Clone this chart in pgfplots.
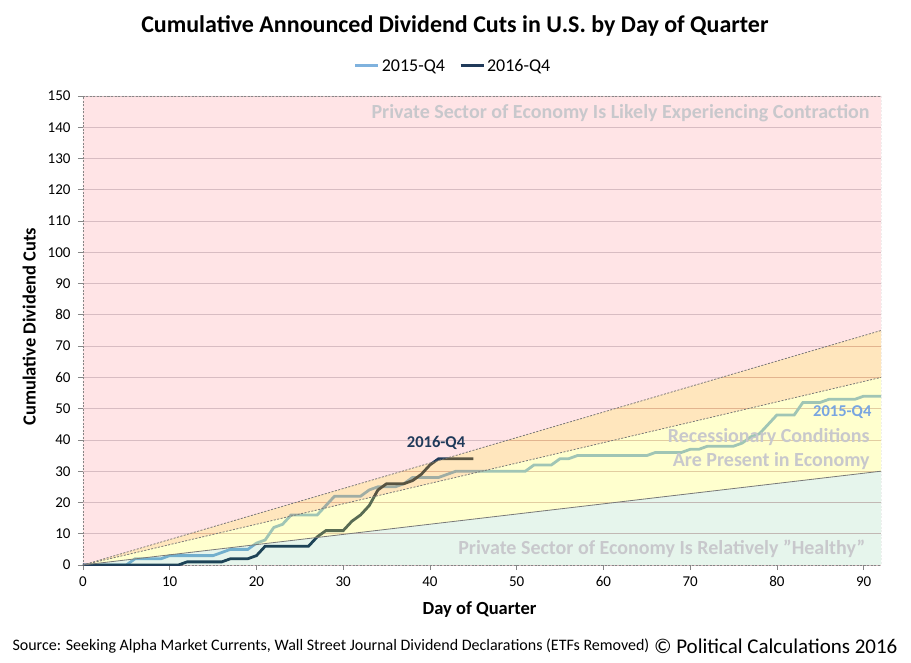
\documentclass[border=0pt]{standalone}
\usepackage{fontspec}
\setmainfont{Carlito}
\usepackage{pgfplots}
\usepackage{pgfplotstable}
\pgfplotsset{compat=1.18}
\definecolor{pinkbg}{RGB}{255,228,230}
\definecolor{gridc}{RGB}{216,188,194}
\definecolor{axgray}{RGB}{134,134,134}
\definecolor{bound}{RGB}{120,120,120}
\definecolor{cfif}{RGB}{127,178,222}
\definecolor{csix}{RGB}{32,58,90}
\definecolor{yelC}{RGB}{255,255,65}
\definecolor{oraC}{RGB}{255,160,0}
\definecolor{grnC}{RGB}{5,155,65}
\definecolor{annot}{RGB}{200,200,204}
\definecolor{lblfif}{RGB}{120,165,225}
\pgfplotstableread{
d v
0 0
1 0
2 0
3 0
4 0
5 0
6 2
7 2
8 2
9 2
10 3
11 3
12 3
13 3
14 3
15 3
16 4
17 5
18 5
19 5
20 7
21 8
22 12
23 13
24 16
25 16
26 16
27 16
28 19
29 22
30 22
31 22
32 22
33 24
34 25
35 25
36 25
37 26
38 28
39 28
40 28
41 28
42 29
43 30
44 30
45 30
46 30
47 30
48 30
49 30
50 30
51 30
52 32
53 32
54 32
55 34
56 34
57 35
58 35
59 35
60 35
61 35
62 35
63 35
64 35
65 35
66 36
67 36
68 36
69 36
70 37
71 37
72 38
73 38
74 38
75 38
76 39
77 41
78 42
79 45
80 48
81 48
82 48
83 52
84 52
85 52
86 53
87 53
88 53
89 53
90 54
91 54
92 54
}\dataA
\pgfplotstableread{
d v
0 0
1 0
2 0
3 0
4 0
5 0
6 0
7 0
8 0
9 0
10 0
11 0
12 1
13 1
14 1
15 1
16 1
17 2
18 2
19 2
20 3
21 6
22 6
23 6
24 6
25 6
26 6
27 9
28 11
29 11
30 11
31 14
32 16
33 19
34 24
35 26
36 26
37 26
38 27
39 29
40 32
41 34
42 34
43 34
44 34
45 34
}\dataB
\begin{document}
\begin{tikzpicture}
\begin{axis}[
  set layers,
  at={(0pt,0pt)}, anchor=south west,
  scale only axis, width=798pt, height=469pt,
  xmin=0, xmax=92, ymin=0, ymax=150,
  xtick={0,10,...,90}, ytick={0,10,...,150},
  axis x line=bottom, axis y line=left,
  x axis line style={draw=axgray, dash pattern=on 2pt off 1.5pt, -},
  y axis line style={draw=axgray, dash pattern=on 2pt off 1.5pt, -},
  tick style={draw=axgray, line width=0.8pt},
  tick align=outside, major tick length=5pt,
  ymajorgrids, grid style={draw=gridc, line width=0.8pt},
  ticklabel style={font=\fontsize{15}{17}\selectfont},
  xticklabel style={yshift=-3pt},
  yticklabel style={xshift=-4pt},
  /pgf/number format/assume math mode=true,
  xlabel={Day of Quarter},
  ylabel={Cumulative Dividend Cuts},
  xlabel style={font=\bfseries\fontsize{18.5}{21}\selectfont, at={(axis description cs:0.497,-0.096)}, anchor=center},
  ylabel style={font=\bfseries\fontsize{18.5}{21}\selectfont, at={(axis description cs:-0.0675,0.508)}, anchor=center},
  title={Cumulative Announced Dividend Cuts in U.S. by Day of Quarter},
  title style={font=\bfseries\fontsize{24}{28}\selectfont, at={(axis description cs:0.466,1.136)}, anchor=center},
  legend style={at={(axis description cs:0.4637,1.064)}, anchor=center, draw=none, fill=none,
    font=\fontsize{18}{20}\selectfont, legend columns=2,
    /tikz/every even column/.append style={column sep=12pt}},
  legend image code/.code={\draw[#1, line width=3pt] (0pt,0pt) -- (23pt,0pt);},
]
\addplot[draw=none, fill=pinkbg, on layer=axis background, forget plot] coordinates {(0,0) (92,75) (92,150) (0,150)} -- cycle;
\addplot[cfif, line width=2.8pt] table[x=d, y=v] {\dataA};
\addlegendentry{2015-Q4}
\addplot[csix, line width=2.8pt] table[x=d, y=v] {\dataB};
\addlegendentry{2016-Q4}
\addplot[draw=none, fill=grnC, fill opacity=0.1, forget plot] coordinates {(0,0) (92,30) (92,0)} -- cycle;
\addplot[draw=none, fill=yelC, fill opacity=0.26, forget plot] coordinates {(0,0) (92,60) (92,30)} -- cycle;
\addplot[draw=none, fill=oraC, fill opacity=0.26, forget plot] coordinates {(0,0) (92,75) (92,60)} -- cycle;
\addplot[bound, line width=0.8pt, dash pattern=on 2pt off 1.5pt, forget plot] coordinates {(0,0) (92,75)};
\addplot[bound, line width=0.8pt, dash pattern=on 2pt off 1.5pt, forget plot] coordinates {(0,0) (92,60)};
\addplot[bound, line width=0.8pt, forget plot] coordinates {(0,0) (92,30)};
\addplot[axgray, line width=0.8pt, dash pattern=on 2pt off 1.5pt, forget plot] coordinates {(0,150) (92,150) (92,0)};
\node[anchor=east, text=annot, font=\bfseries\fontsize{20}{22}\selectfont] at (axis cs:91.1,144.6) {Private Sector of Economy Is Likely Experiencing Contraction};
\node[anchor=east, text=annot, font=\bfseries\fontsize{20}{22}\selectfont] at (axis cs:91.1,40.9) {Recessionary Conditions};
\node[anchor=east, text=annot, font=\bfseries\fontsize{20}{22}\selectfont] at (axis cs:91.1,33.3) {Are Present in Economy};
\node[anchor=east, text=annot, font=\bfseries\fontsize{20}{22}\selectfont] at (axis cs:90.6,5.1) {Private Sector of Economy Is Relatively {\char34}Healthy{\char34}};
\node[anchor=east, text=lblfif, font=\bfseries\fontsize{16.5}{18}\selectfont] at (axis cs:91.3,49.0) {2015-Q4};
\node[anchor=center, text=csix, font=\bfseries\fontsize{16.5}{18}\selectfont] at (axis cs:40.7,39.2) {2016-Q4};
\end{axis}
\node[anchor=west, font=\fontsize{16}{18}\selectfont] at (-74pt,-81pt) {Source: Seeking Alpha Market Currents, Wall Street Journal Dividend Declarations (ETFs Removed)};
\node[anchor=east, font=\fontsize{21}{23}\selectfont] at (818pt,-81pt) {© Political Calculations 2016};
\pgfresetboundingbox
\path[use as bounding box] (-83pt,-97pt) rectangle (828pt,565pt);
\end{tikzpicture}
\end{document}
